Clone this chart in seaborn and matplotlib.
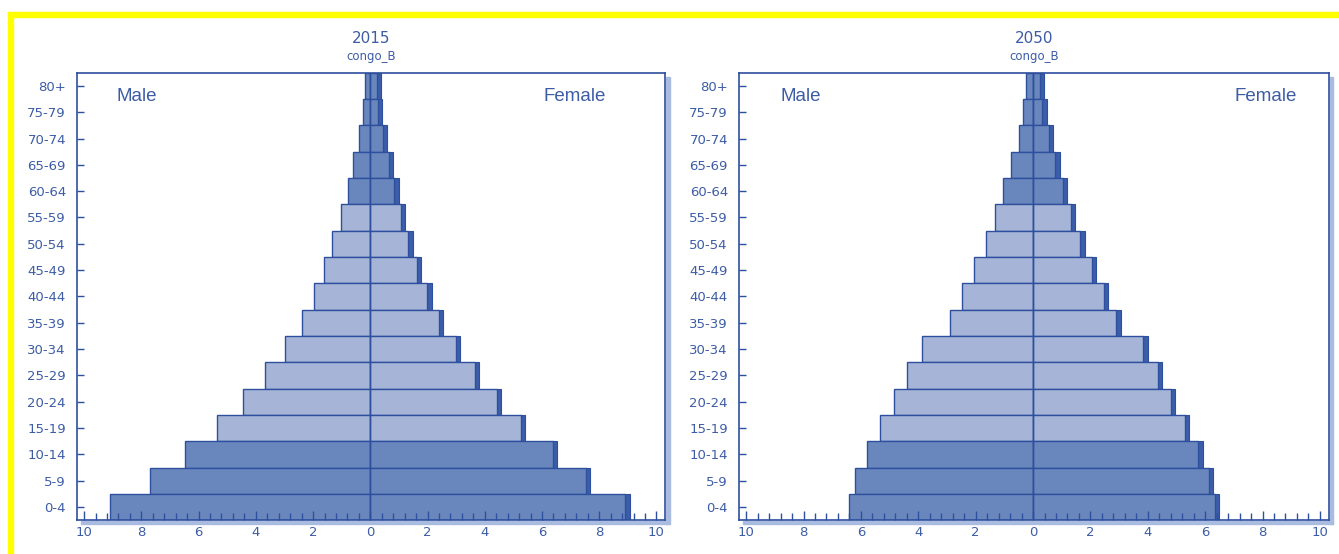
import numpy as np
import pandas as pd
import seaborn as sns
import matplotlib as mpl
import matplotlib.pyplot as plt
from matplotlib.patches import Rectangle
from matplotlib.ticker import MultipleLocator, FuncFormatter

mpl.use('Agg')

# 年龄组（从下到上）
age_groups = ['0-4', '5-9', '10-14', '15-19', '20-24', '25-29', '30-34', '35-39',
              '40-44', '45-49', '50-54', '55-59', '60-64', '65-69', '70-74', '75-79', '80+']
# 人口百分比 (%)
male_2015   = [9.08, 7.69, 6.48, 5.34, 4.45, 3.67, 2.98, 2.39, 1.98, 1.61, 1.33, 1.02, 0.78, 0.62, 0.41, 0.25, 0.17]
female_2015 = [8.91, 7.54, 6.38, 5.26, 4.43, 3.66, 3.00, 2.40, 1.99, 1.62, 1.33, 1.08, 0.84, 0.66, 0.45, 0.27, 0.22]
male_2050   = [6.41, 6.21, 5.79, 5.35, 4.86, 4.38, 3.88, 2.89, 2.48, 2.07, 1.65, 1.32, 1.04, 0.76, 0.50, 0.34, 0.24]
female_2050 = [6.34, 6.13, 5.76, 5.30, 4.80, 4.34, 3.85, 2.90, 2.48, 2.06, 1.65, 1.33, 1.05, 0.78, 0.55, 0.33, 0.23]
dark_groups = ['0-4', '5-9', '10-14', '60-64', '65-69', '70-74', '75-79', '80+']

DARK  = '#6a87bd'
LIGHT = '#a6b5d7'
EDGE  = '#2d4f9e'
SIDE  = '#3c5eaa'
TXT   = '#3d5ca6'
SHADE = '#a9bce0'

order = age_groups[::-1]   # 80+ 在最上
palette = {a: (DARK if a in dark_groups else LIGHT) for a in age_groups}


def plot_pyramid(ax, male, female, year, male_x, female_x):
    df_m = pd.DataFrame({'Age': age_groups, 'Value': [-v for v in male]})
    df_f = pd.DataFrame({'Age': age_groups, 'Value': female})
    # 女性柱右侧的立体阴影
    f_ord = df_f.set_index('Age').loc[order, 'Value'].to_numpy()
    ax.barh(np.arange(len(order)), width=0.2, left=f_ord - 0.05, height=1.0,
            color=SIDE, edgecolor=EDGE, linewidth=0.8, zorder=1)
    for d in (df_m, df_f):
        sns.barplot(data=d, x='Value', y='Age', hue='Age', order=order, hue_order=order,
                    palette=palette, saturation=1, width=1.0, orient='h',
                    edgecolor=EDGE, linewidth=1.0,
                    errorbar=None, legend=False, ax=ax, zorder=2)
    ax.axvline(0, color=EDGE, linewidth=1.0, zorder=3)
    ax.set_axisbelow(False)
    ax.set_xlim(-10.25, 10.3)
    ax.set_ylim(16.475, -0.49)
    ax.set_xlabel('')
    ax.set_ylabel('')
    ax.xaxis.set_major_locator(MultipleLocator(2))
    ax.xaxis.set_minor_locator(MultipleLocator(0.4))
    ax.xaxis.set_major_formatter(FuncFormatter(lambda v, p: f'{abs(v):.0f}'))
    ax.tick_params(axis='x', which='major', direction='in', length=6.5, width=1.0,
                   color=EDGE, labelcolor=TXT, labelsize=9.5, pad=5)
    ax.tick_params(axis='x', which='minor', direction='in', length=5, width=1.0, color=EDGE)
    ax.tick_params(axis='y', direction='in', length=5, width=1.0, color=EDGE,
                   labelcolor=TXT, labelsize=9.5, pad=8)
    ax.tick_params(top=False, right=False)
    for sp in ax.spines.values():
        sp.set_color(EDGE)
        sp.set_linewidth(1.2)
    for lab in ax.get_xticklabels() + ax.get_yticklabels():
        lab.set_family('Liberation Sans Narrow')
    ax.text(male_x, 0.948, 'Male', transform=ax.transAxes, ha='left', va='center',
            fontsize=13.5, color=TXT, family='Liberation Sans')
    ax.text(female_x, 0.948, 'Female', transform=ax.transAxes, ha='right', va='center',
            fontsize=13.5, color=TXT, family='Liberation Sans')
    ax.text(0.5, 1.078, year, transform=ax.transAxes, ha='center', va='center',
            fontsize=11, color=TXT, family='Liberation Sans Narrow')
    ax.text(0.5, 1.037, 'congo_B', transform=ax.transAxes, ha='center', va='center',
            fontsize=8.5, color=TXT, family='Liberation Sans Narrow')


W, H = 1339, 554
fig = plt.figure(figsize=(W / 100, H / 100), dpi=100)
fig.patch.set_facecolor('white')

ax1 = fig.add_axes([77 / W, 1 - 519.5 / H, (665 - 77) / W, 446.5 / H])
ax2 = fig.add_axes([739 / W, 1 - 519.5 / H, (1328.5 - 739) / W, 446.5 / H])

plot_pyramid(ax1, male_2015, female_2015, '2015', 0.068, 0.90)
plot_pyramid(ax2, male_2050, female_2050, '2050', 0.070, 0.947)

# 坐标框的浅蓝色投影
for x0, x1 in ((77, 665), (739, 1328.5)):
    fig.add_artist(Rectangle(((x1 + 1) / W, 1 - 523.5 / H), 3.5 / W, (523.5 - 77) / H,
                             transform=fig.transFigure, color=SHADE, zorder=0))
    fig.add_artist(Rectangle(((x0 + 4) / W, 1 - 524 / H), (x1 - x0) / W, 3.5 / H,
                             transform=fig.transFigure, color=SHADE, zorder=0))

# 黄色边框
fig.add_artist(Rectangle((8 / W, 1 - 17 / H), (W - 8) / W, 5 / H,
                         transform=fig.transFigure, color='#ffff00', zorder=5))
fig.add_artist(Rectangle((8 / W, 0), 5 / W, 1 - 12 / H,
                         transform=fig.transFigure, color='#ffff00', zorder=5))

plt.savefig('out.png', dpi=100)
plt.close()
